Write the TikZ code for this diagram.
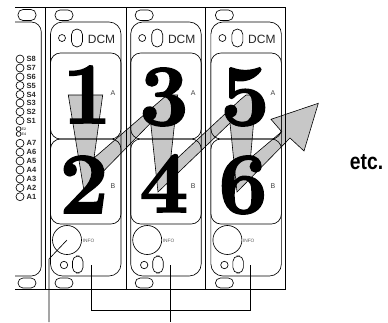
\documentclass[tikz,border=0pt]{standalone}
\usepackage{fontspec}
\setmainfont{Liberation Sans}
\newfontfamily\digitfont[BoldFeatures={FakeBold=2}]{Latin Modern Roman}
\begin{document}
\begin{tikzpicture}[x=1pt,y=-1pt,line join=miter,
  ln/.style={draw=black,line width=0.65pt},
  rail/.style={draw=black,line width=0.95pt},
  flow/.style={draw=black,line width=0.6pt,fill=black!22},
  lab/.style={inner sep=0pt,font=\fontsize{7.5}{8}\selectfont\bfseries,anchor=west,text=black!85},
  labs/.style={inner sep=0pt,font=\fontsize{3.6}{4}\selectfont\bfseries,anchor=west,text=black!70},
  big/.style={inner sep=0pt,anchor=base,font=\fontsize{87}{90}\selectfont\digitfont\bfseries},
  ab/.style={inner sep=0pt,font=\fontsize{7}{8}\selectfont,text=black!75},
  info/.style={inner sep=0pt,font=\fontsize{4.8}{5}\selectfont,text=black!65},
  dcm/.style={inner sep=0pt,font=\fontsize{12}{13}\selectfont,text=black!85}]
\useasboundingbox (0,0) rectangle (388,322);
% gray flow path
\draw[flow] (68.3,95) -- (84,191) -- (150.7,123) -- (158,192) -- (230,123) -- (237,192)
  -- (290,138) -- (304,151) -- (318.3,103.3) -- (271,119.3) -- (281.7,131.7) -- (250.5,158)
  -- (256,95) -- (246,95) -- (240,100) -- (170,165) -- (177.7,95) -- (167,95) -- (160,101)
  -- (94,158) -- (102.7,95) -- cycle;
% rack
\draw[ln] (15,7.5) -- (285,7.5) -- (285,289) -- (15,289);
\draw[rail] (45.7,7.5) -- (45.7,289) (126,7.5) -- (126,289);
\draw[ln] (205.3,7.5) -- (205.3,289);
% left panel
\draw[ln,rounded corners=10pt] (15,22) -- (41.3,22) -- (41.3,276) -- (15,276);
\draw[ln,rounded corners=5pt] (18,9.5) rectangle (36,20.5);
\draw[ln,rounded corners=5pt] (18,278) rectangle (36,288);
% modules
\foreach \mx in {0,80.2,160.4}{
\begin{scope}[xshift=\mx pt]
  \draw[ln,rounded corners=12pt] (50.5,22) rectangle (121,276);
  \draw[ln,rounded corners=10pt] (50.5,53) rectangle (121,139);
  \draw[ln,rounded corners=10pt] (50.5,139) rectangle (121,224);
  \draw[ln,rounded corners=5pt] (55,10) rectangle (73,20.5);
  \draw[ln,rounded corners=5pt] (55,278) rectangle (73,288);
  \draw[ln] (62,38) circle (3.5);
  \draw[ln,rounded corners=5.5pt] (71.5,29) rectangle (82.5,47);
  \draw[ln] (67,240) circle (14.5);
  \draw[ln] (64,265) circle (3.7);
  \draw[ln,rounded corners=5.4pt] (72.5,256) rectangle (83,273);
\end{scope}}
\node[dcm] (d1) at (101.5,39) {DCM};
\node[dcm] (d2) at (181.7,39) {DCM};
\node[dcm] (d3) at (261.9,39) {DCM};
\node[ab] (a1) at (113,93) {A};
\node[ab] (a2) at (193.2,93) {A};
\node[ab] (a3) at (273,93) {A};
\node[ab] (b1) at (113,185.7) {B};
\node[ab] (b2) at (193.2,185.7) {B};
\node[ab] (b3) at (273,185.7) {B};
\node[info] (i1) at (88.5,240.5) {INFO};
\node[info] (i2) at (168.5,240.5) {INFO};
\node[info] (i3) at (248.7,240.5) {INFO};
% status column
\foreach \n/\t/\y in {s8/S8/59,s7/S7/68,s6/S6/77,s5/S5/85.5,s4/S4/94.5,s3/S3/103,s2/S2/111.7,s1/S1/120.7,
  a7/A7/143.3,a6/A6/152.2,a5/A5/161,a4/A4/170,a3x/A3/179,a2x/A2/187.7,a1x/A1/196.7}{
  \draw[ln] (20,\y) circle (4);
  \node[lab] (\n) at (26.5,\y) {\t};
}
\foreach \n/\t/\y in {e2/E2/129,e4/E4/134}{
  \draw[ln] (18.6,\y) circle (2.4);
  \node[labs] (\n) at (21.5,\y) {\t};
}
% digits
\node[big] (n1) at (87,123) {1};
\node[big] (n2) at (84,213) {2};
\node[big] (n3) at (164,125) {3};
\node[big] (n4) at (164,212) {4};
\node[big] (n5) at (245,125) {5};
\node[big] (n6) at (243,213) {6};
% callout lines
\coordinate (c0) at (67,240);
\coordinate (c1) at (49,259);
\coordinate (c2) at (49,322);
\coordinate (t1) at (91,265);
\coordinate (t2) at (91,310);
\coordinate (t3) at (250.7,310);
\coordinate (t4) at (250.7,265);
\coordinate (u1) at (170.6,265);
\coordinate (u2) at (170.6,322);
\draw[ln] (c0) -- (c1) -- (c2);
\draw[ln] (t1) -- (t2) -- (t3) -- (t4);
\draw[ln] (u1) -- (u2);
\node[inner sep=0pt,anchor=base,xscale=0.84,font=\fontsize{23}{24}\selectfont\bfseries] (etc) at (366.5,169.5) {etc.};
\end{tikzpicture}
\end{document}
